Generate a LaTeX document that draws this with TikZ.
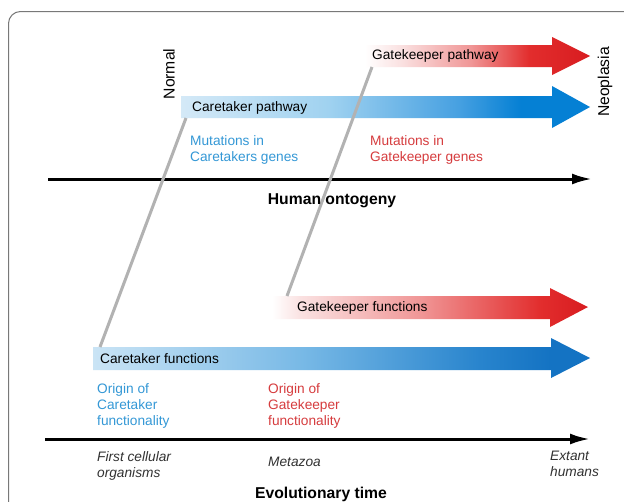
\documentclass[tikz,border=0pt]{standalone}
\usepackage{fontspec}
\setmainfont{Liberation Sans}
\usetikzlibrary{arrows.meta}
\definecolor{txtblue}{RGB}{52,152,214}
\definecolor{txtred}{RGB}{214,60,62}
\definecolor{txtgray}{RGB}{50,50,50}
\definecolor{linegray}{RGB}{178,178,178}
\definecolor{framegray}{RGB}{120,120,120}
\definecolor{redA}{RGB}{250,225,225}
\definecolor{redB}{RGB}{240,150,150}
\definecolor{redC}{RGB}{226,45,45}
\definecolor{redD}{RGB}{216,28,32}
\definecolor{blA}{RGB}{212,233,247}
\definecolor{blB}{RGB}{160,210,240}
\definecolor{blC}{RGB}{70,160,225}
\definecolor{blD}{RGB}{5,128,212}
\definecolor{bfA}{RGB}{202,228,245}
\definecolor{bfB}{RGB}{120,185,230}
\definecolor{bfC}{RGB}{40,132,205}
\definecolor{bfD}{RGB}{20,115,195}
\pgfdeclarehorizontalshading{redpath}{100bp}{color(0bp)=(white); color(25bp)=(white); color(33bp)=(redA); color(48.5bp)=(redB); color(61.5bp)=(redC); color(75bp)=(redD); color(100bp)=(redD)}
\pgfdeclarehorizontalshading{bluepath}{100bp}{color(0bp)=(blA); color(25bp)=(blA); color(43bp)=(blB); color(59bp)=(blC); color(66.5bp)=(blD); color(100bp)=(blD)}
\pgfdeclarehorizontalshading{redfun}{100bp}{color(0bp)=(white); color(25bp)=(white); color(29.5bp)=(redA); color(48.5bp)=(redB); color(67.5bp)=(redC); color(75bp)=(redD); color(100bp)=(redD)}
\pgfdeclarehorizontalshading{bluefun}{100bp}{color(0bp)=(bfA); color(25bp)=(bfA); color(46bp)=(bfB); color(64bp)=(bfC); color(71bp)=(bfD); color(100bp)=(bfD)}
\tikzset{
  lbl/.style={inner sep=0pt, font=\fontsize{13.7}{16}\selectfont, text=black},
  vlbl/.style={inner sep=0pt, font=\fontsize{15.7}{18}\selectfont, text=black, rotate=90},
  bluetxt/.style={lbl, text=txtblue, align=left},
  redtxt/.style={lbl, text=txtred, align=left},
  ittxt/.style={lbl, text=txtgray, font=\fontsize{13.7}{16}\selectfont\itshape, align=left},
  axtitle/.style={lbl, font=\fontsize{15.7}{18}\selectfont\bfseries},
  axisline/.style={line width=3pt, -{Latex[length=20pt,width=11pt]}},
  glink/.style={linegray, line width=3pt}
}
\begin{document}
\begin{tikzpicture}[x=1pt,y=-1pt]
\useasboundingbox (0,0) rectangle (624,501);
\clip (0,0) rectangle (624,501);
\fill[white] (0,0) rectangle (624,501);
% frame
\draw[framegray, line width=1pt, rounded corners=12pt] (8.5,620) -- (8.5,11.5) -- (720,11.5);

% arrows
\shade[shading=redpath] (365,45) -- (552,45) -- (552,37) -- (590,56) -- (552,75) -- (552,67) -- (365,67) -- cycle;
\shade[shading=bluepath] (181,96) -- (552,96) -- (552,86) -- (590,107) -- (552,128) -- (552,118) -- (181,118) -- cycle;
\shade[shading=redfun] (272,296) -- (550,296) -- (550,288) -- (588,307) -- (550,327) -- (550,319) -- (272,319) -- cycle;
\shade[shading=bluefun] (93,347) -- (551,347) -- (551,338) -- (590,358) -- (551,378) -- (551,370) -- (93,370) -- cycle;

% axes
\coordinate (ho0) at (48,179);
\coordinate (ho1) at (592,179);
\draw[axisline] (ho0) -- (ho1);
\coordinate (ev0) at (45,439);
\coordinate (ev1) at (590,439);
\draw[axisline] (ev0) -- (ev1);

% grey links
\coordinate (ctTop) at (186,118);
\coordinate (ctBot) at (100,347);
\coordinate (gkTop) at (372,67);
\coordinate (gkBot) at (287,296);
\draw[glink] (ctBot) -- (ctTop);
\draw[glink] (gkBot) -- (gkTop);

% labels
\node[vlbl] (normal) at (169,74) {Normal};
\node[vlbl] (neo) at (605,82) {Neoplasia};
\node[lbl, anchor=west] (gkp) at (372,56) {Gatekeeper pathway};
\node[lbl, anchor=west] (ctp) at (192,108) {Caretaker pathway};
\node[bluetxt, anchor=north west] (mct) at (190,135) {Mutations in\\Caretakers genes};
\node[redtxt, anchor=north west] (mgk) at (370,135) {Mutations in\\Gatekeeper genes};
\node[axtitle] (hont) at (332,201) {Human ontogeny};
\node[lbl, anchor=west] (gkf) at (297,308) {Gatekeeper functions};
\node[lbl, anchor=west] (ctf) at (100,359) {Caretaker functions};
\node[bluetxt, anchor=north west] (oct) at (97,383) {Origin of\\Caretaker\\functionality};
\node[redtxt, anchor=north west] (ogk) at (268,383) {Origin of\\Gatekeeper\\functionality};
\node[ittxt, anchor=north west] (fco) at (97,451) {First cellular\\organisms};
\node[ittxt, anchor=west] (meta) at (268,462) {Metazoa};
\node[ittxt, anchor=north west] (ext) at (550,451) {Extant\\humans};
\node[axtitle] (evt) at (321,494) {Evolutionary time};
\end{tikzpicture}
\end{document}
